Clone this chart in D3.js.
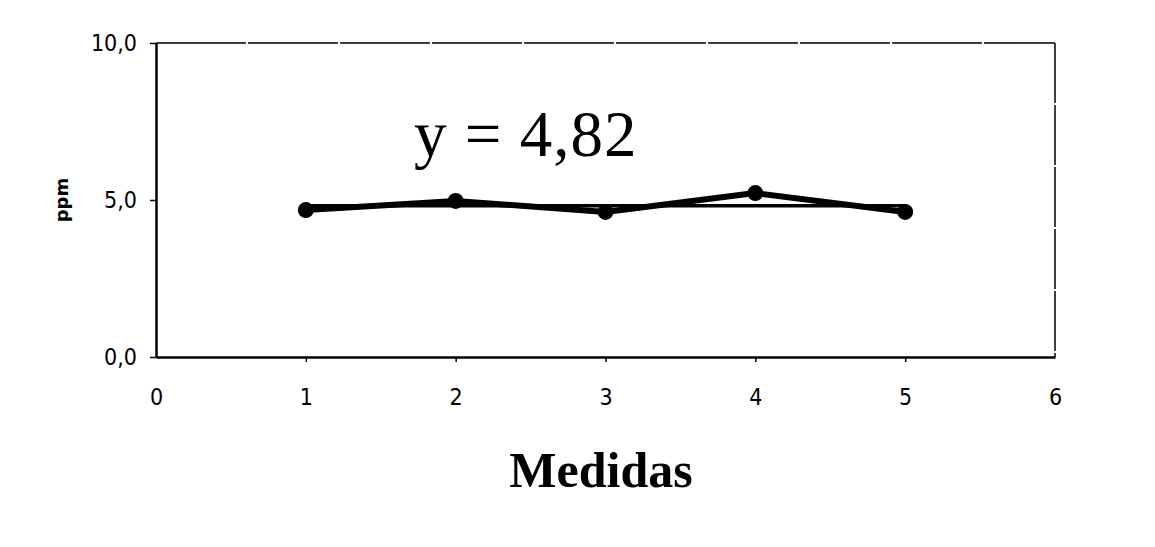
<!DOCTYPE html>
<html><head><meta charset="utf-8">
<script src="https://cdn.jsdelivr.net/npm/d3@7"></script>
<style>body{margin:0;background:#fff}svg{display:block}</style>
</head><body>
<svg id="c" width="1155" height="547"></svg>
<script>
const medidas = [1, 2, 3, 4, 5];
const ppm = [4.68, 4.97, 4.62, 5.22, 4.62];
const media = 4.82;
const xTicks = [0, 1, 2, 3, 4, 5, 6];
const yTicks = [0, 5, 10];
const yTickLabels = ["0,0", "5,0", "10,0"];
const equationLabel = "y = 4,82";

const svg = d3.select("#c");
const x = d3.scaleLinear().domain([0, 6]).range([156, 1055]);
const y = d3.scaleLinear().domain([0, 10]).range([357, 43]);
const tickFont = "'DejaVu Sans Condensed', 'DejaVu Sans', sans-serif";

// frame top/right
svg.append("line").attr("x1", x(0)).attr("x2", x(6)).attr("y1", y(10)).attr("y2", y(10))
  .attr("stroke", "#000").attr("stroke-width", 1.5).attr("stroke-dasharray", "90 2");
svg.append("line").attr("x1", x(6)).attr("x2", x(6)).attr("y1", y(10)).attr("y2", y(0))
  .attr("stroke", "#000").attr("stroke-width", 1.5).attr("stroke-dasharray", "60 2");

// axes
const gx = svg.append("g").attr("transform", `translate(0,${y(0)})`)
  .call(d3.axisBottom(x).tickValues(xTicks).tickSize(5).tickSizeOuter(0).tickPadding(27).tickFormat(d3.format("d")));
const gy = svg.append("g").attr("transform", `translate(${x(0)},0)`)
  .call(d3.axisLeft(y).tickValues(yTicks).tickSize(6).tickSizeOuter(0).tickPadding(13).tickFormat((d,i) => yTickLabels[i]));
[gx, gy].forEach(g => {
  g.select(".domain").attr("stroke-width", 2.5);
  g.selectAll(".tick line").attr("stroke-width", 1.5);
  g.selectAll("text").attr("font-family", tickFont).attr("font-size", 23).attr("fill", "#000");
});
gx.selectAll(".tick").filter(d => d === 0 || d === 6).select("line").remove();

// trend line
svg.append("line").attr("x1", x(1)).attr("x2", x(5)).attr("y1", y(media)).attr("y2", y(media))
  .attr("stroke", "#000").attr("stroke-width", 3.5);

// series
const line = d3.line().x((d, i) => x(medidas[i])).y(d => y(d));
svg.append("path").datum(ppm).attr("d", line).attr("fill", "none")
  .attr("stroke", "#000").attr("stroke-width", 6).attr("stroke-linejoin", "round");
svg.selectAll("circle.pt").data(ppm).join("circle").attr("class", "pt")
  .attr("cx", (d, i) => x(medidas[i])).attr("cy", d => y(d)).attr("r", 8).attr("fill", "#000");

// equation
svg.append("text").attr("x", 414).attr("y", 156).text(equationLabel)
  .attr("font-family", "'Liberation Serif', serif").attr("font-size", 65)
  .attr("letter-spacing", 1);

// axis titles
svg.append("text").attr("x", 601).attr("y", 487).attr("text-anchor", "middle").text("Medidas")
  .attr("font-family", "'Liberation Serif', serif").attr("font-weight", "bold").attr("font-size", 50);
svg.append("text").attr("transform", "translate(68,200) rotate(-90)").attr("text-anchor", "middle").text("ppm")
  .attr("font-family", "'DejaVu Sans', sans-serif").attr("font-weight", "bold").attr("font-size", 18);
</script>
</body></html>
